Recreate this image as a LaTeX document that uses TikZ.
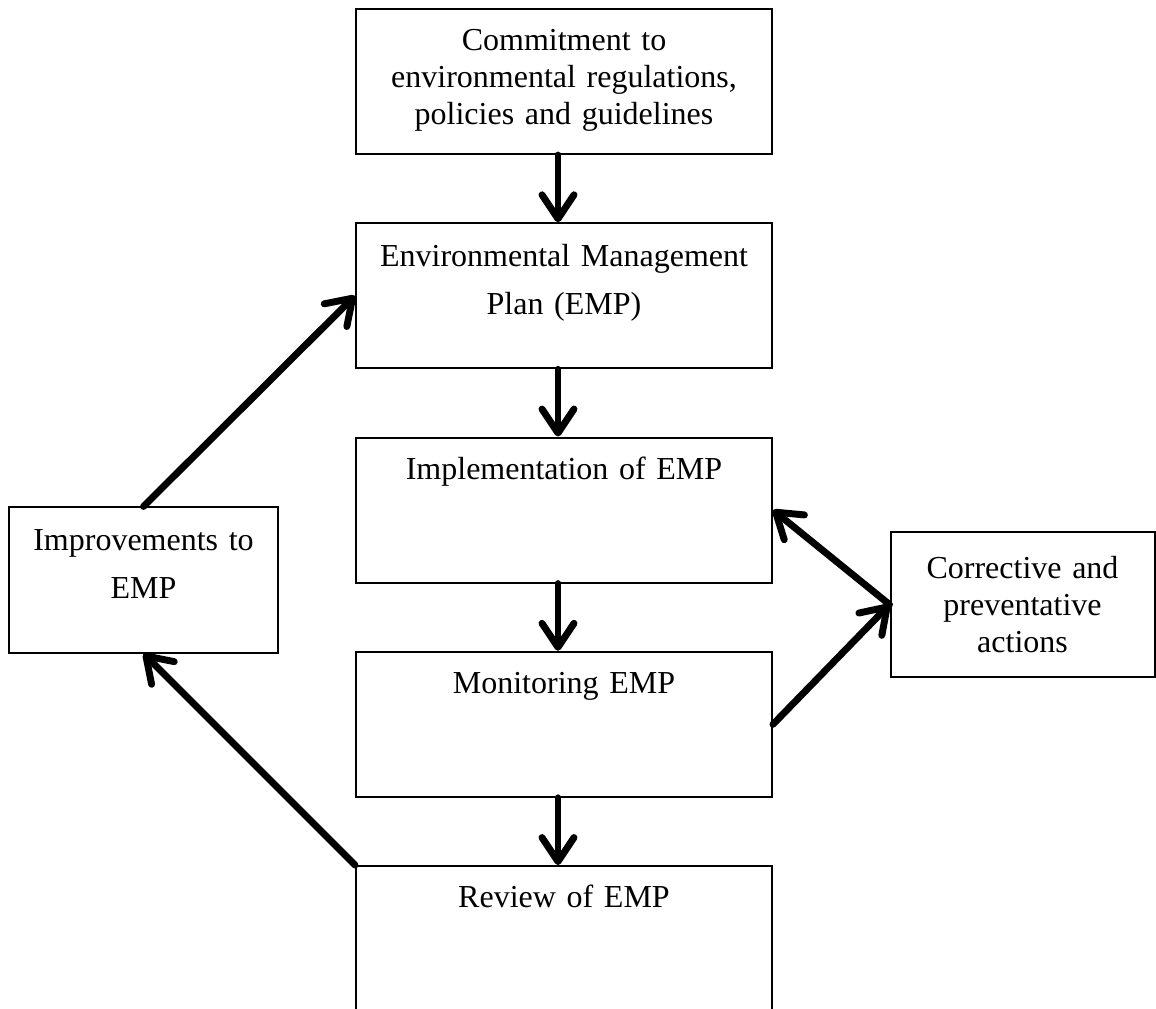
\documentclass[tikz,border=0pt]{standalone}
\usepackage{fontspec}
\setmainfont{Liberation Serif}
\usetikzlibrary{positioning,arrows.meta}

\begin{document}
\begin{tikzpicture}[%
		x=0.375pt,
		y=-0.375pt,
		->,
		>={Straight Barb[length=9pt,width=12pt,round]},
		node distance=25.2pt,
		stage/.style={%
			draw,
			line width=0.75pt,
			minimum width=156pt,
			minimum height=54.4pt
		},
		sidebox/.style={%
			stage,
			minimum width=100.9pt
		},
		stagetext/.style={%
			anchor=base,
			align=center,
			inner sep=0pt,
			text width=150pt,
			font=\fontsize{12}{13.8}\selectfont
		},
		widetext/.style={%
			stagetext,
			font=\fontsize{12}{18}\selectfont
		},
		flow/.style={%
			line width=2.6pt,
			line cap=round,
			line join=round
		}
		]
		\useasboundingbox (0,0) rectangle (1156,1008);

		\node[stage] (commit)  at (564,81.5)           {};
		\node[stage] (emp)     [below=of commit]       {};
		\node[stage] (impl)    [below=of emp]          {};
		\node[stage] (monitor) [below=of impl]         {};
		\node[stage] (review)  [below=of monitor]      {};
		\node[sidebox] (improve) at (143.5,580)         {};
		\node[sidebox, minimum width=99pt] (correct) at (1022.5,604.5) {};

		\node[stagetext] (commit-t)  at ([yshift=-16pt]commit.north)  {Commitment to\\environmental regulations,\\policies and guidelines};
		\node[widetext]  (emp-t)     at ([yshift=-16.5pt]emp.north)   {Environmental Management\\Plan (EMP)};
		\node[stagetext] (impl-t)    at ([yshift=-16pt]impl.north)    {Implementation of EMP};
		\node[stagetext] (monitor-t) at ([yshift=-16pt]monitor.north) {Monitoring EMP};
		\node[stagetext] (review-t)  at ([yshift=-16pt]review.north)  {Review of EMP};
		\node[widetext, text width=95pt]  (improve-t) at ([yshift=-16.5pt]improve.north) {Improvements to\\EMP};
		\node[stagetext, text width=95pt] (correct-t) at ([yshift=-18pt]correct.north)   {Corrective and\\preventative\\actions};

		\path[flow]
		([xshift=-2.25pt]commit.south) edge ([xshift=-2.25pt]emp.north)
		([xshift=-2.25pt]emp.south) edge ([xshift=-2.25pt]impl.north)
		([xshift=-2.25pt]impl.south) edge ([xshift=-2.25pt]monitor.north)
		([xshift=-2.25pt]monitor.south) edge ([xshift=-2.25pt]review.north)
		(improve.north) edge (emp.west)
		(review.north west) edge (improve.south)
		(monitor.east) edge (correct.west)
		(correct.west) edge (impl.east);
\end{tikzpicture}
\end{document}
